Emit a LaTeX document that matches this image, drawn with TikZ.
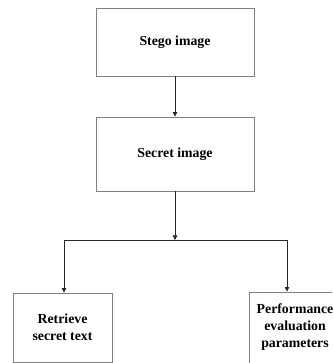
\documentclass[tikz,border=0pt]{standalone}
\usepackage{fontspec}
\setmainfont{Liberation Serif}
\usetikzlibrary{arrows.meta}
\tikzset{
  box/.style={draw=black!50, line width=0.9pt, align=center, inner sep=0pt,
    font=\bfseries\fontsize{13.8}{17}\selectfont},
  conn/.style={draw=black!85, line width=0.8pt},
  arr/.style={conn, -{Triangle[length=4.5pt,width=4.5pt]}}
}
\begin{document}
\begin{tikzpicture}[x=1pt,y=1pt]
\useasboundingbox (0,0) rectangle (332,363);
\clip (0,0) rectangle (332,363);
\fill[white] (0,0) rectangle (332,363);
\node[box, minimum width=158pt, minimum height=68pt] (stego) at (175,321) {Stego image};
\node[box, minimum width=158pt, minimum height=74pt] (secret) at (175,209) {Secret image};
\node[box, minimum width=99pt, minimum height=69pt] (retr) at (62.5,35.5) {Retrieve\\secret text};
\node[box, minimum width=92pt, minimum height=71pt] (perf) at (295,35.5) {Performance\\evaluation\\parameters};
\coordinate (j) at (175,123);
\coordinate (jl) at (64,123);
\coordinate (jr) at (287,123);
\draw[arr] (stego.south) -- (secret.north);
\draw[arr] (secret.south) -- (j);
\draw[conn] (jl) -- (jr);
\draw[arr] (jl) -- (jl |- retr.north);
\draw[arr] (jr) -- (jr |- perf.north);
\end{tikzpicture}
\end{document}
